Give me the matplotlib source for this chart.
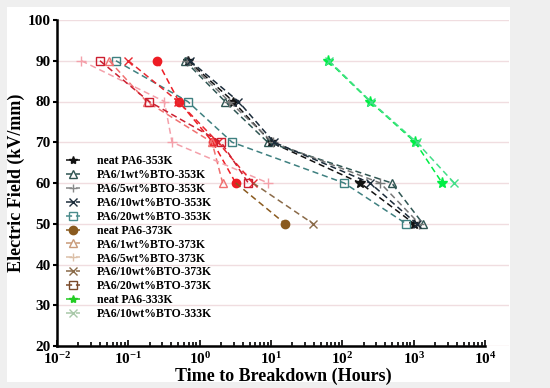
# Time-to-breakdown chart for PA6 / BTO composites
import matplotlib
matplotlib.use("Agg")
import matplotlib.pyplot as plt
from matplotlib.lines import Line2D
from matplotlib.patches import Rectangle
from matplotlib.ticker import FixedLocator, NullFormatter

plt.rcParams["font.family"] = "serif"
plt.rcParams["font.serif"] = ["Liberation Serif", "DejaVu Serif"]
plt.rcParams["font.weight"] = "bold"
plt.rcParams["mathtext.fontset"] = "custom"
plt.rcParams["mathtext.rm"] = "Liberation Serif:bold"
plt.rcParams["mathtext.it"] = "Liberation Serif:bold"
plt.rcParams["mathtext.bf"] = "Liberation Serif:bold"

# DATA
field = [90, 80, 70, 60, 50]

# 353 K series (hours)
neat_353 = [0.69, 2.95, 10.0, 178, 1016]
bto1_353 = [0.62, 2.27, 9.0, 492, 1350]
bto5_353 = [0.66, 2.6, 10.5, 340, 1200]
bto10_353 = [0.73, 3.5, 11.0, 245, 1100]
bto20_353 = [0.067, 0.68, 2.85, 106, 785]

# 373 K series (hours)
neat_373 = [0.255, 0.51, 1.53, 3.2, 15.8]
bto1_373 = [0.054, 0.18, 1.49, 2.1]
bto5_373 = [0.022, 0.32, 0.41, 9.1]
bto10_373 = [0.10, 0.50, 1.8, 5.6, 39]
bto20_373 = [0.040, 0.195, 2.0, 4.8]

# 333 K series (hours)
neat_333 = [63, 245, 1050, 2510]
bto10_333 = [65, 250, 1100, 3700]

labels = ["neat PA6-353K", "PA6/1wt%BTO-353K", "PA6/5wt%BTO-353K",
          "PA6/10wt%BTO-353K", "PA6/20wt%BTO-353K",
          "neat PA6-373K", "PA6/1wt%BTO-373K", "PA6/5wt%BTO-373K",
          "PA6/10wt%BTO-373K", "PA6/20wt%BTO-373K",
          "neat PA6-333K", "PA6/10wt%BTO-333K"]
legend_colors = ["#111111", "#2f5552", "#888888", "#1c2c3a", "#4a8c8c",
                 "#8a5a1e", "#c99a78", "#dcc0a8", "#8a6a48", "#7a4a2a",
                 "#22cc22", "#a8c8a8"]
markers = ["*", "^", "+", "x", "s", "o", "^", "+", "x", "s", "*", "x"]

## FIGURE
fig = plt.figure(figsize=(5.5, 3.88), dpi=100, facecolor="#efefef")
fig.patches.append(Rectangle((7 / 550, 6 / 388), 503 / 550, 375 / 388,
                             transform=fig.transFigure, facecolor="white",
                             edgecolor="none", zorder=-10))
ax = fig.add_axes([57 / 550, 1 - 346 / 388, 452 / 550, 326 / 388])
ax.set_facecolor("none")

# dashed styles
ls = (0, (4, 2.5))
lw = 1.1
ms = 6
open_kw = dict(markerfacecolor="none")

# 353 K
ax.plot(neat_353, field, ls=ls, lw=lw, color="#111111", marker="*", ms=7)
ax.plot(bto1_353, field, ls=ls, lw=lw, color="#2f5552", marker="^", ms=ms, **open_kw)
ax.plot(bto5_353, field, ls=ls, lw=lw, color="#777777", marker="+", ms=ms + 1)
ax.plot(bto10_353, field, ls=ls, lw=lw, color="#1c2c3a", marker="x", ms=ms)
ax.plot(bto20_353, field, ls=ls, lw=lw, color="#3f8080", marker="s", ms=ms, **open_kw)

# 373 K (red above 60 kV/mm, brown to 50 kV/mm)
ax.plot(neat_373[:4], field[:4], ls=ls, lw=lw, color="#ee1c24", marker="o", ms=ms)
ax.plot(neat_373[3:], field[3:], ls=ls, lw=lw, color="#8a5a1e", marker="o", ms=ms,
        markevery=[1])
ax.plot(bto1_373, field[:4], ls=ls, lw=lw, color="#f07070", marker="^", ms=ms, **open_kw)
ax.plot(bto5_373, field[:4], ls=ls, lw=lw, color="#f4a0aa", marker="+", ms=ms + 1)
ax.plot(bto10_373[:4], field[:4], ls=ls, lw=lw, color="#e82830", marker="x", ms=ms)
ax.plot(bto10_373[3:], field[3:], ls=ls, lw=lw, color="#8a6a48", marker="x", ms=ms,
        markevery=[1])
ax.plot(bto20_373, field[:4], ls=ls, lw=lw, color="#cc1f30", marker="s", ms=ms, **open_kw)

# 333 K
ax.plot(neat_333, field[:4], ls=ls, lw=lw, color="#00ee44", marker="*", ms=8)
ax.plot(bto10_333, field[:4], ls=ls, lw=lw, color="#44dd88", marker="x", ms=ms)

## AXES
ax.set_xscale("log")
ax.set_xlim(1e-2, 10 ** 4.336)
ax.set_ylim(20, 100)
ax.set_yticks([20, 30, 40, 50, 60, 70, 80, 90, 100])
ax.set_xticks([1e-2, 1e-1, 1e0, 1e1, 1e2, 1e3, 1e4])
ax.set_xticklabels([r"$10^{-2}$", r"$10^{-1}$", r"$10^{0}$", r"$10^{1}$",
                    r"$10^{2}$", r"$10^{3}$", r"$10^{4}$"])
minors = [m * 10.0 ** e for e in range(-2, 4) for m in range(2, 10)]
ax.xaxis.set_minor_locator(FixedLocator(minors))
ax.xaxis.set_minor_formatter(NullFormatter())
ax.tick_params(axis="x", which="major", direction="in", length=4, width=1.2,
               labelsize=11, pad=4)
ax.tick_params(axis="x", which="minor", direction="in", length=3, width=1.2)
ax.tick_params(axis="y", which="major", direction="out", length=3, width=1.5,
               labelsize=11, pad=1.5)
for lab in ax.get_yticklabels():
    lab.set_fontweight("bold")

ax.spines["top"].set_visible(False)
ax.spines["right"].set_visible(False)
ax.spines["left"].set_linewidth(1.8)
ax.spines["bottom"].set_linewidth(1.8)
ax.spines["bottom"].set_bounds(1e-2, 1e4)

ax.yaxis.grid(True, color="#f0dde0", lw=1.0)
ax.set_axisbelow(True)

ax.set_xlabel("Time to Breakdown (Hours)", fontsize=13, fontweight="bold", labelpad=0)
ax.set_ylabel("Electric Field (kV/mm)", fontsize=13, fontweight="bold", labelpad=2)

## LEGEND
handles = [Line2D([], [], ls=ls, lw=lw, color=c, marker=m, ms=6,
                  markerfacecolor=("none" if m in ("^", "s") else c))
           for c, m in zip(legend_colors, markers)]
ax.legend(handles, labels, loc="upper left", bbox_to_anchor=(0.02, 0.585),
          frameon=False, handlelength=1.2, handletextpad=1.4,
          labelspacing=0.16, borderpad=0, borderaxespad=0,
          prop={"weight": "bold", "size": 8.5})

plt.savefig("out.png", dpi=100, facecolor=fig.get_facecolor())
